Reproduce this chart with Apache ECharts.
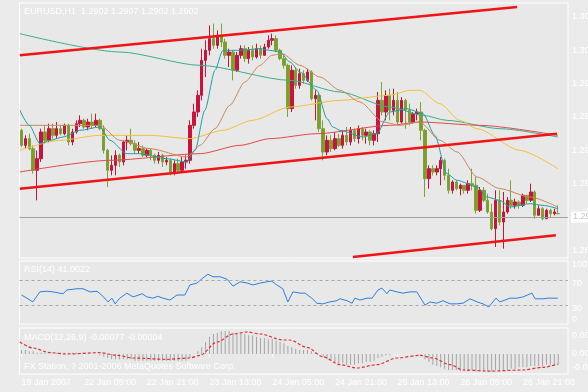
<!DOCTYPE html>
<html><head><meta charset="utf-8">
<script src="https://cdn.jsdelivr.net/npm/echarts@6/dist/echarts.min.js"></script>
<style>html,body{margin:0;padding:0;background:#ebebeb}#c{width:588px;height:392px}</style>
</head><body><div id="c"></div>
<script>
// ---- axis / labels ----
const tickLabels = ['19 Jan 2007','22 Jan 05:00','22 Jan 21:00','23 Jan 13:00','24 Jan 05:00','24 Jan 21:00','25 Jan 13:00','26 Jan 05:00','26 Jan 21:00'];
const tickEvery = 16;
const slotCount = 140;
const priceLabels = [1.3020,1.3000,1.2980,1.2960,1.2940,1.2920,1.2880];
const rsiLabels = [100,70,30,0];
const rsiLevels = [70,30];
const macdLabels = [0.0014,0,-0.0010];
const lastPrice = 1.2902;
const headerText = 'EURUSD,H1  1.2902 1.2907 1.2902 1.2902';
const rsiText = 'RSI(14) 41.0022';
const macdText = 'MACD(12,26,9) -0.00077 -0.00004';
const copyText = 'FX Station, ? 2001-2006 MetaQuotes Software Corp.';

// ---- candles: [open, close, low, high] ----
const ohlc = [
[1.2952,1.2943,1.2942,1.2953],[1.2943,1.2947,1.2941,1.2949],[1.2947,1.2941,1.2940,1.2950],[1.2941,1.2928,1.2926,1.2943],
[1.2928,1.2935,1.2910,1.2940],[1.2935,1.2951,1.2933,1.2953],[1.2951,1.2946,1.2944,1.2955],[1.2946,1.2953,1.2945,1.2956],
[1.2953,1.2949,1.2947,1.2956],[1.2949,1.2953,1.2947,1.2957],[1.2953,1.2950,1.2949,1.2955],[1.2950,1.2955,1.2949,1.2956],
[1.2955,1.2945,1.2943,1.2956],[1.2945,1.2951,1.2943,1.2953],[1.2951,1.2956,1.2950,1.2958],[1.2956,1.2958,1.2954,1.2961],
[1.2958,1.2954,1.2953,1.2959],[1.2954,1.2957,1.2952,1.2959],[1.2957,1.2955,1.2953,1.2962],[1.2955,1.2958,1.2954,1.2962],
[1.2958,1.2953,1.2952,1.2959],[1.2953,1.2940,1.2938,1.2955],[1.2940,1.2928,1.2918,1.2941],[1.2928,1.2931,1.2925,1.2937],
[1.2931,1.2937,1.2925,1.2940],[1.2937,1.2933,1.2930,1.2938],[1.2933,1.2945,1.2931,1.2946],[1.2945,1.2946,1.2940,1.2949],
[1.2946,1.2944,1.2943,1.2953],[1.2944,1.2940,1.2938,1.2946],[1.2940,1.2941,1.2938,1.2945],[1.2941,1.2937,1.2936,1.2943],
[1.2937,1.2940,1.2936,1.2941],[1.2940,1.2937,1.2934,1.2941],[1.2937,1.2934,1.2932,1.2938],[1.2934,1.2937,1.2932,1.2939],
[1.2937,1.2933,1.2930,1.2938],[1.2933,1.2934,1.2931,1.2936],[1.2934,1.2927,1.2925,1.2935],[1.2927,1.2932,1.2925,1.2934],
[1.2932,1.2928,1.2926,1.2935],[1.2928,1.2933,1.2928,1.2936],[1.2933,1.2934,1.2929,1.2937],[1.2934,1.2955,1.2932,1.2958],
[1.2955,1.2963,1.2953,1.2968],[1.2963,1.2973,1.2960,1.2976],[1.2973,1.2994,1.2970,1.3001],[1.2994,1.3000,1.2984,1.3006],
[1.3000,1.3007,1.2997,1.3015],[1.3007,1.3003,1.3001,1.3016],[1.3003,1.3009,1.3001,1.3012],[1.3009,1.3005,1.3002,1.3016],
[1.3005,1.2997,1.2995,1.3007],[1.2997,1.2999,1.2990,1.3001],[1.2999,1.2988,1.2982,1.3000],[1.2988,1.2997,1.2987,1.2999],
[1.2997,1.3001,1.2995,1.3003],[1.3001,1.2995,1.2993,1.3003],[1.2995,1.3000,1.2992,1.3002],[1.3000,1.2996,1.2994,1.3003],
[1.2996,1.3001,1.2995,1.3004],[1.3001,1.2997,1.2995,1.3003],[1.2997,1.3002,1.2997,1.3004],[1.3002,1.3006,1.3001,1.3009],
[1.3006,1.3007,1.3003,1.3010],[1.3007,1.3000,1.2999,1.3009],[1.3000,1.2995,1.2994,1.3001],[1.2995,1.2991,1.2989,1.2997],
[1.2991,1.2965,1.2960,1.2992],[1.2965,1.2988,1.2963,1.2991],[1.2988,1.2979,1.2977,1.2990],[1.2979,1.2986,1.2977,1.2989],
[1.2986,1.2982,1.2980,1.2988],[1.2982,1.2987,1.2981,1.2989],[1.2987,1.2971,1.2970,1.2988],[1.2971,1.2973,1.2958,1.2976],
[1.2973,1.2953,1.2951,1.2974],[1.2953,1.2939,1.2934,1.2958],[1.2939,1.2946,1.2937,1.2949],[1.2946,1.2941,1.2939,1.2949],
[1.2941,1.2947,1.2940,1.2951],[1.2947,1.2943,1.2942,1.2950],[1.2943,1.2949,1.2941,1.2952],[1.2949,1.2945,1.2943,1.2954],
[1.2945,1.2952,1.2943,1.2954],[1.2952,1.2947,1.2945,1.2953],[1.2947,1.2953,1.2944,1.2955],[1.2953,1.2949,1.2946,1.2954],
[1.2949,1.2951,1.2944,1.2953],[1.2951,1.2946,1.2943,1.2952],[1.2946,1.2950,1.2943,1.2952],[1.2950,1.2970,1.2945,1.2975],
[1.2970,1.2963,1.2961,1.2981],[1.2963,1.2973,1.2958,1.2976],[1.2973,1.2964,1.2958,1.2977],[1.2964,1.2970,1.2961,1.2977],
[1.2970,1.2957,1.2955,1.2975],[1.2957,1.2970,1.2956,1.2972],[1.2970,1.2964,1.2953,1.2971],[1.2964,1.2957,1.2955,1.2968],
[1.2957,1.2962,1.2956,1.2963],[1.2962,1.2963,1.2958,1.2965],[1.2963,1.2952,1.2946,1.2969],[1.2952,1.2923,1.2912,1.2953],
[1.2923,1.2929,1.2917,1.2931],[1.2929,1.2927,1.2925,1.2931],[1.2927,1.2929,1.2925,1.2931],[1.2929,1.2934,1.2919,1.2936],
[1.2934,1.2925,1.2922,1.2935],[1.2925,1.2916,1.2914,1.2929],[1.2916,1.2921,1.2914,1.2922],[1.2921,1.2917,1.2916,1.2922],
[1.2917,1.2919,1.2913,1.2920],[1.2919,1.2916,1.2914,1.2919],[1.2916,1.2920,1.2914,1.2922],[1.2920,1.2919,1.2916,1.2929],
[1.2919,1.2904,1.2902,1.2924],[1.2904,1.2916,1.2903,1.2918],[1.2916,1.2910,1.2909,1.2918],[1.2910,1.2903,1.2902,1.2914],
[1.2903,1.2893,1.2892,1.2908],[1.2893,1.2910,1.2882,1.2916],[1.2910,1.2897,1.2895,1.2916],[1.2897,1.2903,1.2881,1.2915],
[1.2903,1.2910,1.2902,1.2912],[1.2910,1.2907,1.2905,1.2922],[1.2907,1.2909,1.2905,1.2911],[1.2909,1.2907,1.2905,1.2910],
[1.2907,1.2913,1.2906,1.2914],[1.2913,1.2910,1.2908,1.2913],[1.2910,1.2915,1.2909,1.2920],[1.2915,1.2901,1.2899,1.2916],
[1.2901,1.2905,1.2901,1.2907],[1.2905,1.2899,1.2898,1.2906],[1.2899,1.2904,1.2899,1.2905],[1.2904,1.2902,1.2900,1.2905],
[1.2902,1.2903,1.2901,1.2905],[1.2902,1.2902,1.2902,1.2907]
];

// ---- moving averages, read as [bar index, price] ----
const maTeal = [[-0.4,1.2964],[2,1.2955],[4.7,1.2944],[7.3,1.2946],[10.6,1.2948],[14.9,1.2952],[20,1.2954],[22.6,1.2946],[26.9,1.2938],[30.2,1.2938],[37.1,1.2935],[42.2,1.2933],[44.3,1.2940],[46.8,1.2964],[49.4,1.2988],[51.4,1.3000],[55.8,1.3000],[60.9,1.3001],[63.4,1.3000],[66,1.2999],[68.5,1.2993],[71.1,1.2987],[75.4,1.2976],[78,1.2959],[79.5,1.2954],[81.3,1.2952],[87.2,1.2948],[90.7,1.2950],[94,1.2963],[98.4,1.2965],[102.5,1.2962],[105.5,1.2949],[108.6,1.2926],[111.2,1.2922],[116.3,1.2918],[118.8,1.2912],[122.1,1.2910],[124.7,1.2906],[129.8,1.2908],[133.1,1.2907],[136.9,1.2905]];
const maBrown = [[-0.4,1.2955],[9.8,1.2955],[20,1.2955],[25.1,1.2946],[32.8,1.2941],[42.2,1.2936],[45.6,1.2943],[49.4,1.2953],[53.2,1.2967],[57,1.2981],[60.9,1.2991],[63.9,1.2997],[66.5,1.2998],[71.1,1.2991],[76.2,1.2984],[81.3,1.2976],[86.4,1.2969],[92.3,1.2957],[96.6,1.2955],[101.7,1.2957],[106.8,1.2946],[111.2,1.2939],[116.3,1.2924],[122.1,1.2917],[129.8,1.2912],[136.9,1.2906]];
const maYellow = [[-0.4,1.2940],[9.8,1.2946],[20,1.2949],[32.8,1.2949],[43,1.2947],[51.4,1.2952],[59,1.2958],[68.5,1.2966],[81.3,1.2970],[94,1.2973],[99.2,1.2976],[101.7,1.2976],[106.8,1.2968],[111.9,1.2958],[116.3,1.2953],[127.2,1.2940],[136.9,1.2929]];
const maGreen = [[-0.4,1.3010],[25.1,1.2999],[45.6,1.2991],[68.5,1.2982],[81.3,1.2975],[94,1.2966],[102.5,1.2961],[108.6,1.2958],[122.1,1.2953],[136.9,1.2948]];
const maRed = [[-0.4,1.2927],[22.6,1.2934],[45.6,1.2938],[55.8,1.2943],[63.4,1.2947],[75.4,1.2950],[94,1.2955],[101.7,1.2957],[117,1.2955],[136.9,1.2949]];

// ---- channel trend lines [[index, price],[index, price]] ----
const trendUpper = [[-0.4,1.2997],[126.5,1.3026]];
const trendMiddle = [[-0.4,1.2917],[136.7,1.2950]];
const trendLower = [[84.6,1.2876],[136.4,1.2889]];

// ---- RSI(14) readings [index, value] ----
const rsi = [[0,46],[1.4,41],[2.9,35],[4.7,51],[6.5,52],[8,51],[10.6,48],[11.6,54],[14.2,56],[15.7,56],[17.5,51],[19.3,52],[20.8,44],[22.1,35],[23.1,41],[23.9,32],[25.1,41],[26.9,49],[28.5,43],[30.8,48],[32,43],[33.6,41],[34.8,44],[36.1,41],[37.9,38],[39.7,46],[41.7,46],[43,62],[44.8,65],[46.3,73],[47.6,79],[48.9,75],[50.7,75],[52.5,71],[54,60],[55.8,67],[57.6,65],[59.1,62],[60.9,65],[62.7,67],[63.9,68],[65.2,62],[66.7,56],[68,35],[69.3,51],[71.1,49],[72.4,49],[74.1,41],[75.4,33],[76.9,32],[78.7,35],[80.5,37],[81.3,40],[83.1,37],[84.4,33],[85.1,41],[86.4,38],[88.2,41],[89.5,41],[91,54],[92,57],[93.3,48],[94,54],[95.8,51],[97.4,49],[99.2,51],[100.9,51],[101.4,48],[103,30],[104.3,35],[106,33],[107.6,37],[109.4,32],[111.1,32],[112.7,33],[114.5,40],[116.3,35],[117.8,32],[119.3,27],[121.1,41],[122.1,35],[124.7,41],[126.5,41],[128,43],[130.3,49],[131.1,40],[133.1,40],[134.4,41],[136.9,41]];

// ---- MACD(12,26,9) ----
const macdHist = [
0.0003,0.0003,0.0002,0.0002,
0.0001,0.0001,0.0001,0,0,0.0001,0.0001,
0.0001,0.0001,0.0001,0.0001,0.0001,0.0001,0,0,0,-0.0001,
-0.0002,-0.0003,-0.0004,-0.0004,-0.0004,-0.0004,-0.0004,-0.0004,-0.0005,-0.0005,
-0.0005,-0.0005,-0.0005,-0.0005,-0.0005,-0.0005,-0.0005,-0.0005,-0.0005,-0.0005,-0.0005,-0.0005,
-0.0003,0,0.0002,0.0005,0.0009,0.0013,0.0015,
0.0016,0.0017,0.0017,0.0017,0.0016,0.0016,0.0016,0.0015,0.0014,0.0014,
0.0013,0.0012,0.0012,0.0011,0.0011,0.0010,0.0009,0.0008,0.0006,0.0005,
0.0004,0.0003,0.0003,0.0003,0.0002,0.0001,0,-0.0002,-0.0004,-0.0005,
-0.0006,-0.0007,-0.0007,-0.0008,-0.0008,-0.0008,-0.0007,-0.0007,-0.0006,-0.0006,
-0.0005,-0.0003,-0.0002,-0.0001,-0.0001,0,0,0,0,0,
0,0,-0.0001,-0.0004,-0.0006,-0.0008,-0.0009,-0.0010,-0.0011,-0.0012,
-0.0012,-0.0012,-0.0013,-0.0013,-0.0013,-0.0012,-0.0013,-0.0013,-0.0013,-0.0013,
-0.0013,-0.0012,-0.0012,-0.0012,-0.0012,-0.0011,-0.0011,-0.0010,-0.0010,-0.0010,
-0.0009,-0.0009,-0.0009,-0.0009,-0.0008,-0.0008,-0.0008,-0.0008
];
const macdSignal = [[-0.4,0.0009],[2.9,0.00045],[7.3,0.0001],[11.6,0],[20,0.0001],[24.4,-0.0001],[28.5,-0.0003],[37.1,-0.0004],[43,-0.0003],[45.6,-0.0001],[49.9,0.0009],[54,0.0015],[57.6,0.00165],[60.9,0.0015],[66.7,0.00105],[68.5,0.00105],[72.9,0.0005],[76.9,-0.0002],[81.3,-0.0008],[85.6,-0.00105],[90.7,-0.0008],[95.8,-0.0003],[101.7,-0.0001],[105,-0.0003],[109.4,-0.0008],[112.7,-0.0012],[119.6,-0.00128],[128,-0.0012],[133.1,-0.001],[136.9,-0.00075]];

// ---- hourly categories (weekend skipped) ----
const MON = ['Jan','Feb','Mar','Apr','May','Jun','Jul','Aug','Sep','Oct','Nov','Dec'];
const categories = [];
for (let t = Date.UTC(2007,0,19,13); categories.length < slotCount; t += 3600000) {
  const d = new Date(t), wd = d.getUTCDay();
  if (wd === 0 || wd === 6) continue;
  categories.push(d.getUTCDate() + ' ' + MON[d.getUTCMonth()] + ' ' + String(d.getUTCHours()).padStart(2,'0') + ':00');
}

const FONT = 'Liberation Sans';
const WHITE = '#ffffff';
const G = {left: 19.5, width: 548.5, outerBoundsMode: 'none', containLabel: false};
const gridBase = {show: true, backgroundColor: '#e8e8e8', borderColor: WHITE, borderWidth: 1};
const hiddenX = (gi) => ({type: 'value', gridIndex: gi, min: -0.5, max: slotCount - 0.5, show: false});
const yLabel = (vals, fmt, rich) => ({show: true, customValues: vals, formatter: fmt, color: WHITE, fontSize: 9, fontFamily: FONT, margin: 4, align: 'left', hideOverlap: false, rich: rich});
const maLine = (data, color) => ({type: 'line', xAxisIndex: 1, yAxisIndex: 0, data, showSymbol: false, symbol: 'none', smooth: 0.25, smoothMonotone: 'x', lineStyle: {color, width: 1}, z: 3, silent: true});
const trend = (data) => ({type: 'line', xAxisIndex: 1, yAxisIndex: 0, data, symbol: 'none', lineStyle: {color: '#f01414', width: 2.5}, z: 4, silent: true});

const chart = echarts.init(document.getElementById('c'), null, {renderer: 'canvas'});
chart.setOption({
  animation: false,
  backgroundColor: '#ebebeb',
  textStyle: {fontFamily: FONT},
  grid: [
    Object.assign({top: 3, height: 255}, G, gridBase),
    Object.assign({top: 261, height: 63}, G, gridBase),
    Object.assign({top: 328, height: 46}, G, gridBase)
  ],
  xAxis: [
    {type: 'category', gridIndex: 0, data: categories, boundaryGap: true, show: false},
    hiddenX(0),
    hiddenX(1),
    {type: 'category', gridIndex: 2, data: categories, boundaryGap: true,
      axisLine: {show: false},
      axisTick: {show: true, alignWithLabel: true, length: 3, interval: (i) => i % tickEvery === 0 && i / tickEvery < tickLabels.length, lineStyle: {color: WHITE}},
      axisLabel: {show: true, hideOverlap: false, interval: (i) => i % tickEvery === 0 && i / tickEvery < tickLabels.length,
        formatter: (v, i) => tickLabels[i / tickEvery] || '', color: WHITE, fontSize: 9, fontFamily: FONT, align: 'left', margin: 4},
      splitLine: {show: false}},
    hiddenX(2)
  ],
  yAxis: [
    {type: 'value', gridIndex: 0, position: 'right', min: 1.28754, max: 1.30284, scale: true,
      axisLine: {show: false}, axisTick: {show: false}, splitLine: {show: false},
      axisLabel: yLabel(priceLabels, (v) => v.toFixed(4))},
    {type: 'value', gridIndex: 1, position: 'right', min: 0, max: 100,
      axisLine: {show: false}, axisTick: {show: false}, splitLine: {show: false},
      axisLabel: yLabel(rsiLabels, (v) => v === 0 ? '{b|0}' : '{t|' + v + '}',
        {t: {color: WHITE, fontSize: 9, fontFamily: FONT, padding: [7, 0, 0, 0]},
         b: {color: WHITE, fontSize: 9, fontFamily: FONT, padding: [0, 0, 8, 0]}})},
    {type: 'value', gridIndex: 2, position: 'right', min: -0.0015, max: 0.00195,
      axisLine: {show: false}, axisTick: {show: false}, splitLine: {show: false},
      axisLabel: yLabel(macdLabels, (v) => v.toFixed(5))}
  ],
  series: [
    {type: 'candlestick', xAxisIndex: 0, yAxisIndex: 0, data: ohlc, barWidth: 3, z: 2, silent: true,
      itemStyle: {color: '#c8143c', borderColor: '#c8143c', color0: '#869a2a', borderColor0: '#7aa43a', borderWidth: 1},
      markLine: {silent: true, symbol: 'none', animation: false,
        lineStyle: {color: '#a0a0a0', width: 1, type: 'solid'},
        label: {show: true, position: 'end', distance: 3, formatter: lastPrice.toFixed(4), color: '#c8c8c8', backgroundColor: WHITE, fontSize: 9, fontFamily: FONT, padding: [1, 2]},
        data: [{yAxis: lastPrice}]}},
    maLine(maGreen, '#3aae8c'),
    maLine(maRed, '#e04a4a'),
    maLine(maYellow, '#f2c03a'),
    maLine(maBrown, '#c68a5c'),
    maLine(maTeal, '#1f9fa6'),
    trend(trendUpper),
    trend(trendMiddle),
    trend(trendLower),
    {type: 'line', xAxisIndex: 2, yAxisIndex: 1, data: rsi, symbol: 'none', silent: true,
      lineStyle: {color: '#2f7fe0', width: 1}, z: 3,
      markLine: {silent: true, symbol: 'none', label: {show: false},
        lineStyle: {color: '#a8a8a8', width: 1, type: [3, 3]},
        data: rsiLevels.map(v => ({yAxis: v}))}},
    {type: 'bar', xAxisIndex: 3, yAxisIndex: 2, data: macdHist, barWidth: 1, silent: true,
      itemStyle: {color: '#a4a4a4'}, z: 2},
    {type: 'line', xAxisIndex: 4, yAxisIndex: 2, data: macdSignal, symbol: 'none', silent: true,
      smooth: 0.3, smoothMonotone: 'x',
      lineStyle: {color: '#e0303a', width: 1.2, type: [3, 2]}, z: 3}
  ],
  graphic: [
    {type: 'text', left: 24, top: 7, z: 100, silent: true, style: {text: headerText, fill: WHITE, font: '9px "Liberation Sans"'}},
    {type: 'text', left: 24, top: 265, z: 100, silent: true, style: {text: rsiText, fill: WHITE, font: '9px "Liberation Sans"'}},
    {type: 'text', left: 24, top: 333, z: 100, silent: true, style: {text: macdText, fill: WHITE, font: '9px "Liberation Sans"'}},
    {type: 'text', left: 24, top: 362, z: 100, silent: true, style: {text: copyText, fill: WHITE, font: '9px "Liberation Sans"'}}
  ]
});
</script>
</body></html>
